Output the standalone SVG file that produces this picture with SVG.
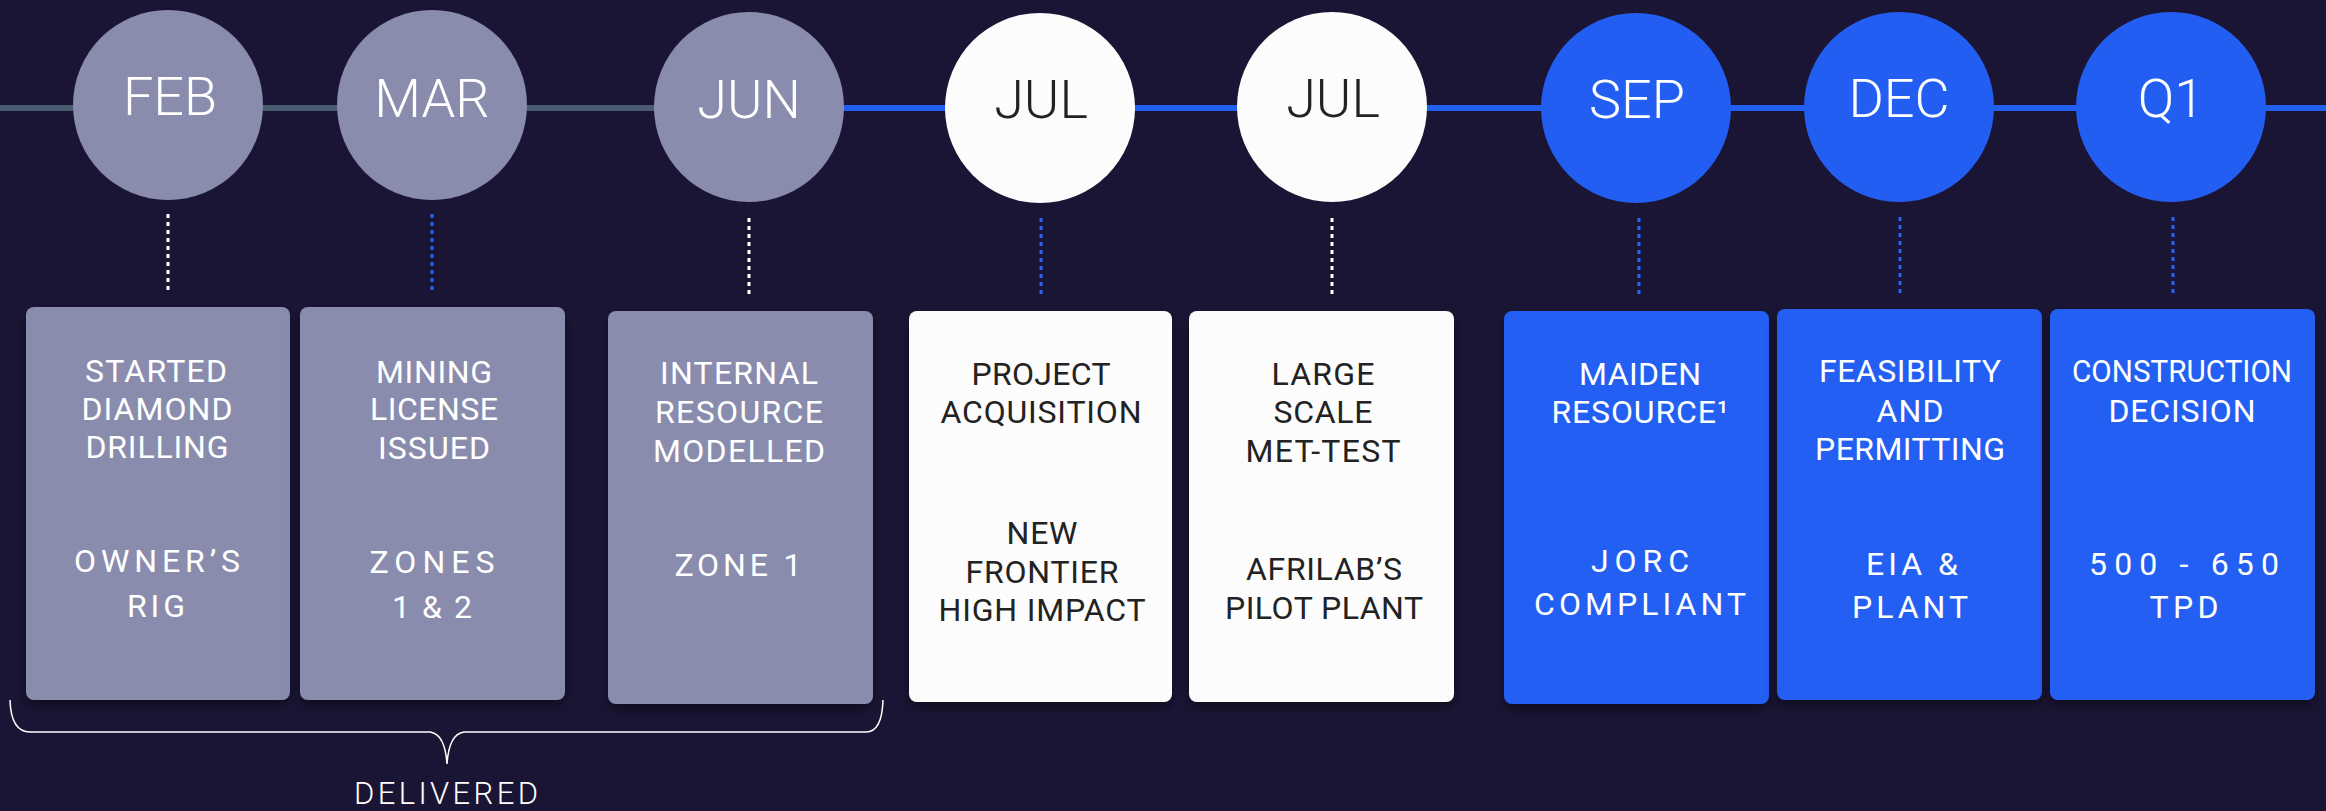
<svg xmlns="http://www.w3.org/2000/svg" width="2326" height="811" viewBox="0 0 2326 811">
<defs>
<style>
.bg{fill:#1b1535}
.grey{fill:#8a8cae}
.white{fill:#fcfcfc}
.blue{fill:#225ef2}
.month{font-family:Roboto,"Liberation Sans",sans-serif;font-weight:300;font-size:54px;text-anchor:middle}
.up{font-family:Roboto,"Liberation Sans",sans-serif;font-weight:400;font-size:32px;text-anchor:middle}
.low{font-family:Roboto,"Liberation Sans",sans-serif;font-weight:400;font-size:32px;text-anchor:middle}
.lt{fill:#ffffff}
.dk{fill:#222222}
.dotw{stroke:#ffffff;stroke-width:3;stroke-dasharray:4 4;fill:none}
.dotb{stroke:#2a62f5;stroke-width:3;stroke-dasharray:4 4;fill:none}
</style>
<filter id="sh" x="-10%" y="-10%" width="120%" height="125%">
<feDropShadow dx="0" dy="6" stdDeviation="6" flood-color="#000000" flood-opacity="0.45"/>
</filter>
</defs>
<rect class="bg" x="0" y="0" width="2326" height="811"/>
<g id="connectors">
<line x1="0" y1="108" x2="760" y2="108" stroke="#4a5a70" stroke-width="6"/>
<line x1="760" y1="108" x2="2326" y2="108" stroke="#2260f0" stroke-width="6"/>
<line class="dotw" x1="168" y1="214" x2="168" y2="294"/>
<line class="dotb" x1="432" y1="214" x2="432" y2="294"/>
<line class="dotw" x1="749" y1="218" x2="749" y2="297"/>
<line class="dotb" x1="1041" y1="218" x2="1041" y2="297"/>
<line class="dotw" x1="1332" y1="218" x2="1332" y2="297"/>
<line class="dotb" x1="1639" y1="218" x2="1639" y2="297"/>
<line class="dotb" x1="1900" y1="217" x2="1900" y2="295"/>
<line class="dotb" x1="2173" y1="217" x2="2173" y2="295"/>
</g>
<g id="m-feb"><circle class="grey" cx="168" cy="105" r="95"/><text class="month lt" x="170" y="115">FEB</text></g>
<g id="m-mar"><circle class="grey" cx="432" cy="105" r="95"/><text class="month lt" x="432" y="117">MAR</text></g>
<g id="m-jun"><circle class="grey" cx="749" cy="107" r="95"/><text class="month lt" x="749" y="118">JUN</text></g>
<g id="m-jul1"><circle class="white" cx="1040" cy="108" r="95"/><text class="month dk" x="1041" y="118">JUL</text></g>
<g id="m-jul2"><circle class="white" cx="1332" cy="107" r="95"/><text class="month dk" x="1333" y="117">JUL</text></g>
<g id="m-sep"><circle class="blue" cx="1636" cy="108" r="95"/><text class="month lt" x="1637" y="118">SEP</text></g>
<g id="m-dec"><circle class="blue" cx="1899" cy="107" r="95"/><text class="month lt" x="1899" y="117">DEC</text></g>
<g id="m-q1"><circle class="blue" cx="2171" cy="107" r="95"/><text class="month lt" x="2171" y="117">Q1</text></g>

<g id="b1"><rect class="grey" filter="url(#sh)" x="26" y="307" width="264" height="393" rx="8"/>
<text class="up lt" x="156" y="382" textLength="142" lengthAdjust="spacing">STARTED</text>
<text class="up lt" x="157" y="420" textLength="151" lengthAdjust="spacing">DIAMOND</text>
<text class="up lt" x="157" y="458" textLength="143" lengthAdjust="spacing">DRILLING</text>
<text class="low lt" x="157" y="572" textLength="166" lengthAdjust="spacing">OWNER’S</text>
<text class="low lt" x="156" y="617" textLength="58" lengthAdjust="spacing">RIG</text></g>
<g id="b2"><rect class="grey" filter="url(#sh)" x="300" y="307" width="265" height="393" rx="8"/>
<text class="up lt" x="434" y="383" textLength="116" lengthAdjust="spacing">MINING</text>
<text class="up lt" x="434" y="420" textLength="128" lengthAdjust="spacing">LICENSE</text>
<text class="up lt" x="434" y="459" textLength="112" lengthAdjust="spacing">ISSUED</text>
<text class="low lt" x="432" y="573" textLength="125" lengthAdjust="spacing">ZONES</text>
<text class="low lt" x="432" y="618" textLength="80" lengthAdjust="spacing">1 &amp; 2</text></g>
<g id="b3"><rect class="grey" filter="url(#sh)" x="608" y="311" width="265" height="393" rx="8"/>
<text class="up lt" x="739" y="384" textLength="158" lengthAdjust="spacing">INTERNAL</text>
<text class="up lt" x="739" y="423" textLength="168" lengthAdjust="spacing">RESOURCE</text>
<text class="up lt" x="739" y="462" textLength="172" lengthAdjust="spacing">MODELLED</text>
<text class="low lt" x="738" y="576" textLength="127" lengthAdjust="spacing">ZONE 1</text></g>
<g id="b4"><rect class="white" filter="url(#sh)" x="909" y="311" width="263" height="391" rx="8"/>
<text class="up dk" x="1041" y="385" textLength="139" lengthAdjust="spacing">PROJECT</text>
<text class="up dk" x="1041" y="423" textLength="201" lengthAdjust="spacing">ACQUISITION</text>
<text class="low dk" x="1042" y="544" textLength="71" lengthAdjust="spacing">NEW</text>
<text class="low dk" x="1042" y="583" textLength="153" lengthAdjust="spacing">FRONTIER</text>
<text class="low dk" x="1042" y="621" textLength="207" lengthAdjust="spacing">HIGH IMPACT</text></g>
<g id="b5"><rect class="white" filter="url(#sh)" x="1189" y="311" width="265" height="391" rx="8"/>
<text class="up dk" x="1323" y="385" textLength="103" lengthAdjust="spacing">LARGE</text>
<text class="up dk" x="1323" y="423" textLength="99" lengthAdjust="spacing">SCALE</text>
<text class="up dk" x="1323" y="462" textLength="155" lengthAdjust="spacing">MET-TEST</text>
<text class="low dk" x="1324" y="580" textLength="156" lengthAdjust="spacing">AFRILAB’S</text>
<text class="low dk" x="1324" y="619" textLength="198" lengthAdjust="spacing">PILOT PLANT</text></g>
<g id="b6"><rect class="blue" filter="url(#sh)" x="1504" y="311" width="265" height="393" rx="8"/>
<text class="up lt" x="1640" y="385" textLength="122" lengthAdjust="spacing">MAIDEN</text>
<text class="up lt" x="1640" y="423" textLength="177" lengthAdjust="spacing">RESOURCE¹</text>
<text class="low lt" x="1640" y="572" textLength="98" lengthAdjust="spacing">JORC</text>
<text class="low lt" x="1640" y="615" textLength="212" lengthAdjust="spacing">COMPLIANT</text></g>
<g id="b7"><rect class="blue" filter="url(#sh)" x="1777" y="309" width="265" height="391" rx="8"/>
<text class="up lt" x="1910" y="382" textLength="182" lengthAdjust="spacing">FEASIBILITY</text>
<text class="up lt" x="1910" y="422" textLength="67" lengthAdjust="spacing">AND</text>
<text class="up lt" x="1910" y="460" textLength="190" lengthAdjust="spacing">PERMITTING</text>
<text class="low lt" x="1912" y="575" textLength="92" lengthAdjust="spacing">EIA &amp;</text>
<text class="low lt" x="1910" y="618" textLength="116" lengthAdjust="spacing">PLANT</text></g>
<g id="b8"><rect class="blue" filter="url(#sh)" x="2050" y="309" width="265" height="391" rx="8"/>
<text class="up lt" x="2182" y="382" textLength="220" lengthAdjust="spacingAndGlyphs">CONSTRUCTION</text>
<text class="up lt" x="2182" y="422" textLength="147" lengthAdjust="spacing">DECISION</text>
<text class="low lt" x="2184" y="575" textLength="190" lengthAdjust="spacing">500 - 650</text>
<text class="low lt" x="2184" y="618" textLength="69" lengthAdjust="spacing">TPD</text></g>

<g id="delivered">
<path d="M10 700 Q11 732 30 732 L430 732 Q445 734 447 764 Q449 734 464 732 L866 732 Q882 732 883 700" fill="none" stroke="#ffffff" stroke-width="1.5"/>
<text x="446" y="804" font-family="Roboto,'Liberation Sans',sans-serif" font-weight="300" font-size="31" fill="#ffffff" text-anchor="middle" textLength="184" lengthAdjust="spacing">DELIVERED</text>
</g>
</svg>
